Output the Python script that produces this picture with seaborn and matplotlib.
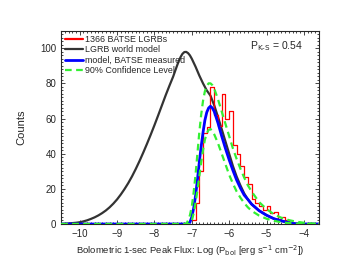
import numpy as np
import pandas as pd
import matplotlib
matplotlib.use("Agg")
import matplotlib.pyplot as plt
import seaborn as sns
from matplotlib.ticker import MultipleLocator

# Histogram of 1366 BATSE LGRBs (bin centres, counts)
hist_x = [-6.95, -6.85, -6.75, -6.65, -6.55, -6.45, -6.35, -6.25, -6.15, -6.05,
          -5.95, -5.85, -5.75, -5.65, -5.55, -5.45, -5.35, -5.25, -5.15, -5.05,
          -4.95, -4.85, -4.75, -4.65, -4.55, -4.45, -4.35]
hist_counts = [2, 12, 30, 52, 55, 78, 62, 56, 74, 60,
               64, 45, 40, 33, 27, 23, 14, 12, 10, 8,
               10, 6, 7, 3, 4, 2, 1]
hist_edges = [-7.0, -6.9, -6.8, -6.7, -6.6, -6.5, -6.4, -6.3, -6.2, -6.1, -6.0,
              -5.9, -5.8, -5.7, -5.6, -5.5, -5.4, -5.3, -5.2, -5.1, -5.0,
              -4.9, -4.8, -4.7, -4.6, -4.5, -4.4, -4.3]

# LGRB world model
world_x = [-10.5, -10.3, -10.1, -10.0, -9.9, -9.8, -9.7, -9.6, -9.5, -9.4, -9.3,
           -9.2, -9.1, -9.0, -8.9, -8.8, -8.7, -8.6, -8.5, -8.4, -8.3, -8.2,
           -8.1, -8.0, -7.9, -7.8, -7.7, -7.6, -7.5, -7.45, -7.4, -7.35, -7.3,
           -7.25, -7.2, -7.15, -7.1, -7.05, -7.0, -6.9, -6.8, -6.7, -6.6, -6.5,
           -6.4, -6.3, -6.2, -6.1, -6.0, -5.9, -5.8, -5.7, -5.6, -5.5, -5.4,
           -5.2, -5.0, -4.8, -4.6, -4.4, -4.2, -4.0, -3.6]
world_y = [0, 0.3, 0.7, 1.0, 1.5, 2.1, 2.9, 3.8, 4.9, 6.2, 7.7,
           9.5, 11.6, 14.0, 16.8, 19.9, 23.3, 27.1, 31.3, 35.8, 40.6, 45.6,
           50.8, 56.2, 61.8, 67.5, 73.2, 78.6, 83.8, 86.8, 89.8, 92.6, 95.0,
           96.8, 97.8, 97.9, 97.2, 95.9, 94.0, 89.5, 84.5, 80, 76, 73,
           67.5, 61, 54, 47, 40, 33, 27, 22, 17.5, 14, 11.3,
           7.6, 5, 3, 1.8, 0.7, 0.1, 0, 0]

# model, BATSE measured
meas_x = [-10.5, -7.5, -7.1, -7.05, -7.0, -6.95, -6.9, -6.85, -6.8, -6.75, -6.7,
          -6.65, -6.6, -6.55, -6.5, -6.45, -6.4, -6.3, -6.2, -6.1, -6.0, -5.9,
          -5.8, -5.7, -5.6, -5.5, -5.4, -5.2, -5.0, -4.8, -4.6, -4.4, -4.2,
          -4.0, -3.6]
meas_y = [0, 0, 0, 1, 4, 9, 16, 25, 35, 44, 52,
          59, 63.5, 66, 67, 66, 64, 57.5, 50, 43, 36.5, 30.5,
          25, 20.5, 16.5, 14, 11.3, 7.6, 5, 3, 1.8, 0.7, 0.1,
          0, 0]

# 90% confidence level, upper
upper_x = [-10.5, -7.5, -7.15, -7.1, -7.05, -7.0, -6.95, -6.9, -6.85, -6.8, -6.75,
           -6.7, -6.65, -6.6, -6.55, -6.5, -6.45, -6.4, -6.3, -6.2, -6.1, -6.0,
           -5.9, -5.8, -5.7, -5.6, -5.5, -5.4, -5.2, -5.0, -4.8, -4.6, -4.4,
           -4.2, -4.0, -3.8, -3.6]
upper_y = [0, 0, 0, 2, 5, 10, 18, 28, 40, 52, 62,
           70, 75.5, 78.5, 80, 80, 79, 77, 71, 64, 57, 50,
           43, 37, 31.5, 26.5, 22, 18.5, 12.5, 8.5, 5.5, 3.5, 2.2,
           1.3, 0.7, 0.3, 0.1]

# 90% confidence level, lower
lower_x = [-10.5, -7.5, -7.05, -7.0, -6.95, -6.9, -6.85, -6.8, -6.75, -6.7, -6.65,
           -6.6, -6.55, -6.5, -6.45, -6.4, -6.3, -6.2, -6.1, -6.0, -5.9, -5.8,
           -5.7, -5.6, -5.5, -5.4, -5.2, -5.0, -4.8, -4.6, -4.4, -4.2, -4.0, -3.6]
lower_y = [0, 0, 0, 2, 6, 12, 19, 27, 35, 42, 48,
           51.5, 53.5, 54, 53, 51, 46, 40, 34, 28, 23, 18.5,
           15, 12, 9.5, 7.5, 4.8, 3, 1.8, 1.0, 0.5, 0.2, 0, 0]

fig = plt.figure(figsize=(3.41, 2.64), dpi=100)
sns.set_style("ticks")
plt.rcParams['font.family'] = ['Liberation Sans', 'DejaVu Sans']
ax = fig.add_axes([0.179, 0.1515, 0.756, 0.7325])

green = "#33f033"
sns.lineplot(x=world_x, y=world_y, ax=ax, color="#333333", lw=1.6, label="LGRB world model",
             zorder=2, sort=False)
sns.histplot(x=hist_x, weights=hist_counts, bins=hist_edges, ax=ax, element="step",
             fill=False, color="red", linewidth=0.9, zorder=3)
ax.plot([], [], color="red", lw=1.6, label="1366 BATSE LGRBs")
sns.lineplot(x=meas_x, y=meas_y, ax=ax, color="blue", lw=2.0, label="model, BATSE measured",
             zorder=4, sort=False)
sns.lineplot(x=upper_x, y=upper_y, ax=ax, color=green, lw=1.6, linestyle=(0, (3, 2)),
             label="90% Confidence Level", zorder=5, sort=False)
sns.lineplot(x=lower_x, y=lower_y, ax=ax, color=green, lw=1.6, linestyle=(0, (3, 2)),
             zorder=5, sort=False)

ax.set_xlim(-10.5, -3.6)
ax.set_ylim(0, 110)
ax.xaxis.set_major_locator(MultipleLocator(1))
ax.xaxis.set_minor_locator(MultipleLocator(0.1))
ax.yaxis.set_major_locator(MultipleLocator(20))
ax.yaxis.set_minor_locator(MultipleLocator(2))
ax.tick_params(which="both", direction="in", top=True, right=True, labelsize=7, width=0.6)
ax.tick_params(which="major", length=3)
ax.tick_params(which="minor", length=1.5)
for s in ax.spines.values():
    s.set_linewidth(0.8)

ax.set_xlabel("Bolometric 1-sec Peak Flux: Log (P$_{\\rm bol}$ [erg s$^{-1}$ cm$^{-2}$])",
              fontsize=6.8, labelpad=3)
ax.set_ylabel("Counts", fontsize=8, labelpad=10)
ax.text(0.94, 0.92, "P$_{\\rm K\\text{-}S}$ = 0.54", transform=ax.transAxes, ha="right",
        va="center", fontsize=7.5)

handles, labels = ax.get_legend_handles_labels()
order = ["1366 BATSE LGRBs", "LGRB world model", "model, BATSE measured", "90% Confidence Level"]
hmap = dict(zip(labels, handles))
ax.legend([hmap[k] for k in order], order, loc="upper left", frameon=False, fontsize=6.4,
          handlelength=2.0, handletextpad=0.15, labelspacing=0.15, borderaxespad=0.2,
          borderpad=0.3, bbox_to_anchor=(0.0, 1.0))

fig.savefig("out.png", dpi=100)
